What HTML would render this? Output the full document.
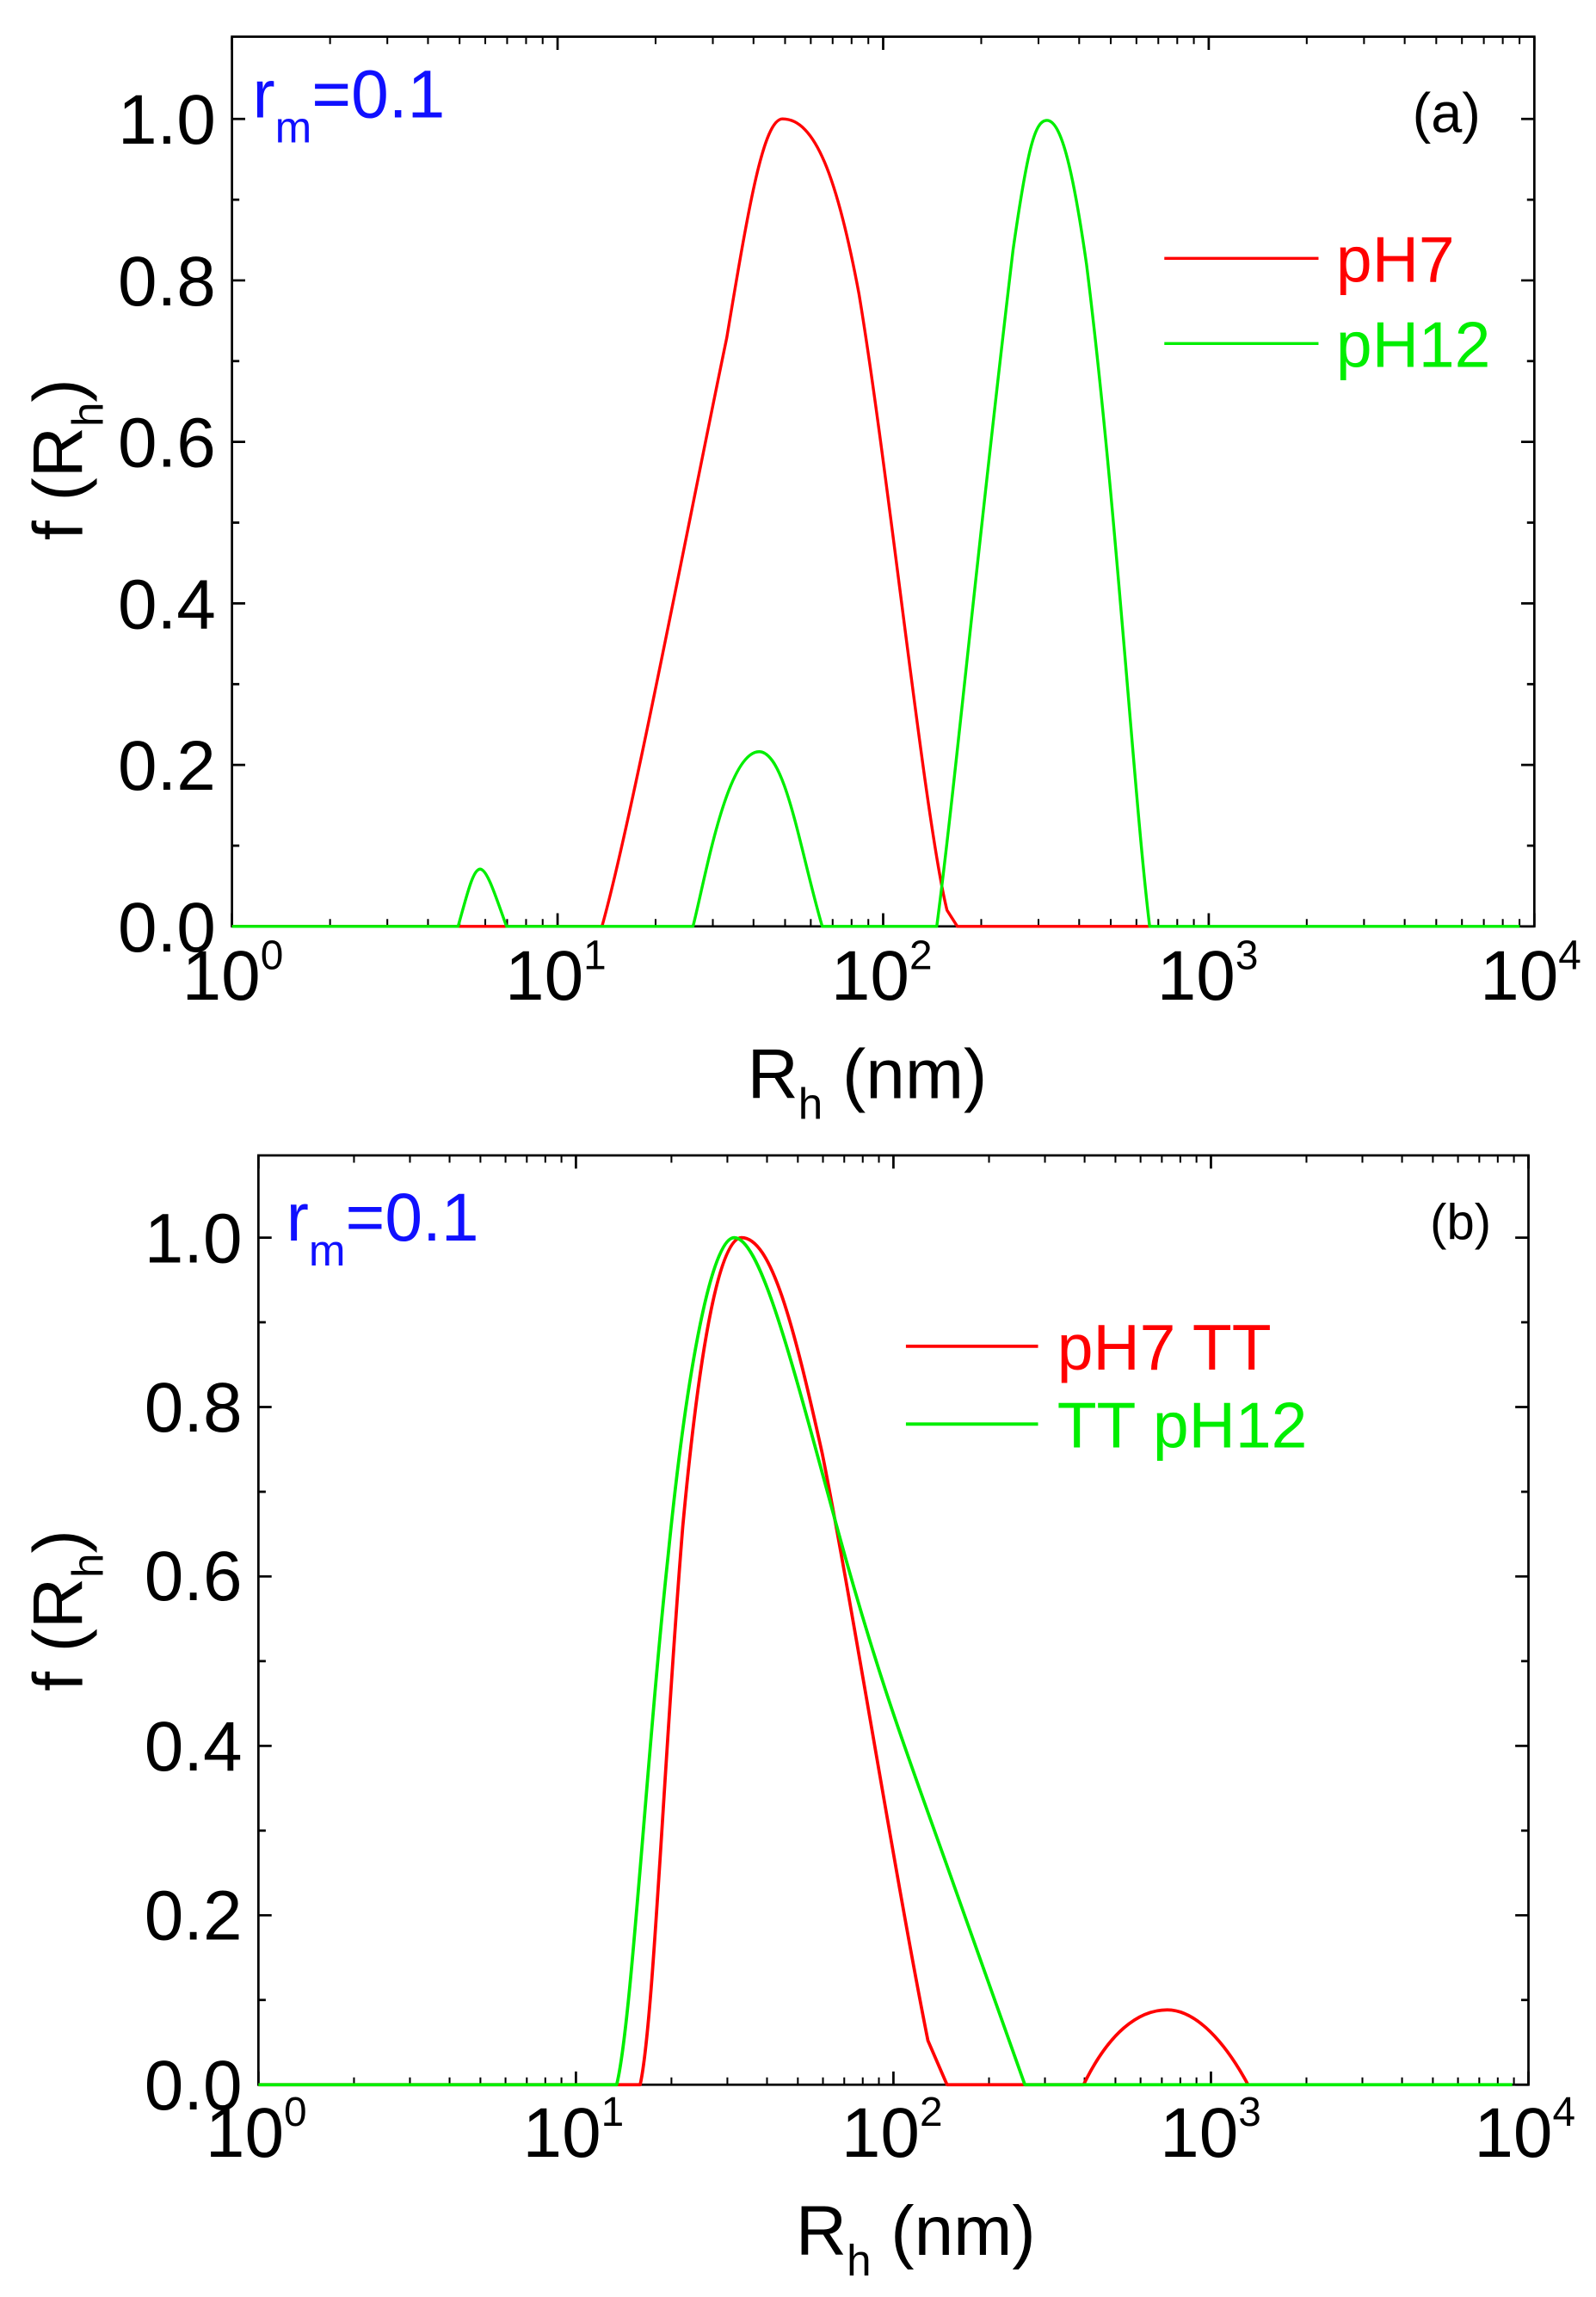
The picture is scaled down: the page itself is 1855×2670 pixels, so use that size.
<!DOCTYPE html>
<html><head><meta charset="utf-8"><style>
html,body{margin:0;padding:0;background:#fff}
svg{display:block}
text{font-family:"Liberation Sans",Arial,sans-serif}
</style></head><body>
<svg width="1855" height="2670" viewBox="0 0 1087 1564.6" preserveAspectRatio="none" xmlns="http://www.w3.org/2000/svg">
<!-- Panel A -->
<g stroke="#000" stroke-width="1.6" fill="none">
<rect x="158" y="25" width="887" height="606"/>
<path d="M158,631v-9M379.75,631v-9M601.5,631v-9M823.25,631v-9M1045,631v-9M158,25v9M379.75,25v9M601.5,25v9M823.25,25v9M1045,25v9"/>
<path d="M158,631h9M158,521h9M158,411h9M158,301h9M158,191h9M158,81h9M1045,631h-9M1045,521h-9M1045,411h-9M1045,301h-9M1045,191h-9M1045,81h-9"/>
<path d="M158,576h5M158,466h5M158,356h5M158,246h5M158,136h5M1045,576h-5M1045,466h-5M1045,356h-5M1045,246h-5M1045,136h-5"/>
<path stroke-width="1.2" d="M224.8,631v-5M263.8,631v-5M291.5,631v-5M313,631v-5M330.5,631v-5M345.4,631v-5M358.3,631v-5M369.6,631v-5M446.5,631v-5M485.5,631v-5M513.2,631v-5M534.7,631v-5M552.2,631v-5M567.1,631v-5M580,631v-5M591.4,631v-5M668.3,631v-5M707.3,631v-5M735,631v-5M756.5,631v-5M774,631v-5M788.9,631v-5M801.8,631v-5M813.1,631v-5M890,631v-5M929,631v-5M956.7,631v-5M978.2,631v-5M995.7,631v-5M1010.6,631v-5M1023.5,631v-5M1034.9,631v-5
M224.8,25v5M263.8,25v5M291.5,25v5M313,25v5M330.5,25v5M345.4,25v5M358.3,25v5M369.6,25v5M446.5,25v5M485.5,25v5M513.2,25v5M534.7,25v5M552.2,25v5M567.1,25v5M580,25v5M591.4,25v5M668.3,25v5M707.3,25v5M735,25v5M756.5,25v5M774,25v5M788.9,25v5M801.8,25v5M813.1,25v5M890,25v5M929,25v5M956.7,25v5M978.2,25v5M995.7,25v5M1010.6,25v5M1023.5,25v5M1034.9,25v5"/>
</g>
<g fill="none" stroke-width="2" stroke-linejoin="round">
<path stroke="#ff0000" d="M158,631 L410,631 C430,560 470,350 495,230 C510,140 520,81 533,81 C555,81 570,120 585,200 C605,320 630,560 645,620 L652,631 L785,631"/>
<path stroke="#00ee00" d="M158,631 L312,631 C318,610 322,592 327,592 C332,592 338,612 345,631 L472,631 C480,600 495,512 517,512 C535,512 545,580 560,631 L638,631 C650,540 665,380 690,170 C700,100 705,82 713,82 C722,82 730,110 740,180 C760,340 772,540 783,631 L1035,631"/>
<line x1="793" y1="176" x2="898" y2="176" stroke="#ff0000"/>
<line x1="793" y1="234" x2="898" y2="234" stroke="#00ee00"/>
</g>
<g font-size="48" text-anchor="end" fill="#000">
<text x="147" y="648">0.0</text><text x="147" y="538">0.2</text><text x="147" y="428">0.4</text><text x="147" y="318">0.6</text><text x="147" y="208">0.8</text><text x="147" y="98">1.0</text>
</g>
<g font-size="48" fill="#000">
<text x="124" y="681">10<tspan font-size="28" dy="-21">0</tspan></text>
<text x="344" y="681">10<tspan font-size="28" dy="-21">1</tspan></text>
<text x="566" y="681">10<tspan font-size="28" dy="-21">2</tspan></text>
<text x="788" y="681">10<tspan font-size="28" dy="-21">3</tspan></text>
<text x="1008" y="681">10<tspan font-size="28" dy="-21">4</tspan></text>
<text x="509" y="748">R<tspan font-size="30" dy="14">h</tspan><tspan dy="-14"> (nm)</tspan></text>
<text transform="translate(56,368) rotate(-90)">f (R<tspan font-size="30" dy="14">h</tspan><tspan dy="-14">)</tspan></text>
<text x="172" y="80" fill="#1010ff" font-size="46">r<tspan font-size="30" dy="17">m</tspan><tspan dy="-17">=0.1</tspan></text>
<text x="962" y="90" font-family="Liberation Serif,serif" font-size="38">(a)</text>
<text x="910" y="192" fill="#ff0000" font-size="44">pH7</text>
<text x="910" y="250" fill="#00ee00" font-size="44">pH12</text>
</g>

<!-- Panel B -->
<g stroke="#000" stroke-width="1.6" fill="none">
<rect x="176" y="787" width="865" height="633"/>
<path d="M176,1420v-9M392.25,1420v-9M608.5,1420v-9M824.75,1420v-9M1041,1420v-9M176,787v9M392.25,787v9M608.5,787v9M824.75,787v9M1041,787v9"/>
<path d="M176,1420h9M176,1304.6h9M176,1189.2h9M176,1073.8h9M176,958.4h9M176,843h9M1041,1420h-9M1041,1304.6h-9M1041,1189.2h-9M1041,1073.8h-9M1041,958.4h-9M1041,843h-9"/>
<path d="M176,1362.3h5M176,1246.9h5M176,1131.5h5M176,1016.1h5M176,900.7h5M1041,1362.3h-5M1041,1246.9h-5M1041,1131.5h-5M1041,1016.1h-5M1041,900.7h-5"/>
<path stroke-width="1.2" d="M241.1,1420v-5M279.2,1420v-5M306.2,1420v-5M327.2,1420v-5M344.3,1420v-5M358.8,1420v-5M371.4,1420v-5M382.4,1420v-5M457.3,1420v-5M495.4,1420v-5M522.4,1420v-5M543.4,1420v-5M560.5,1420v-5M575,1420v-5M587.6,1420v-5M598.6,1420v-5M673.6,1420v-5M711.7,1420v-5M738.7,1420v-5M759.7,1420v-5M776.8,1420v-5M791.3,1420v-5M803.9,1420v-5M814.9,1420v-5M889.8,1420v-5M927.9,1420v-5M954.9,1420v-5M975.9,1420v-5M993,1420v-5M1007.5,1420v-5M1020.1,1420v-5M1031.1,1420v-5
M241.1,787v5M279.2,787v5M306.2,787v5M327.2,787v5M344.3,787v5M358.8,787v5M371.4,787v5M382.4,787v5M457.3,787v5M495.4,787v5M522.4,787v5M543.4,787v5M560.5,787v5M575,787v5M587.6,787v5M598.6,787v5M673.6,787v5M711.7,787v5M738.7,787v5M759.7,787v5M776.8,787v5M791.3,787v5M803.9,787v5M814.9,787v5M889.8,787v5M927.9,787v5M954.9,787v5M975.9,787v5M993,787v5M1007.5,787v5M1020.1,787v5M1031.1,787v5"/>
</g>
<g fill="none" stroke-width="2.2" stroke-linejoin="round">
<path stroke="#ff0000" d="M176,1420 L436,1420 C445,1380 452,1200 465,1040 C478,900 492,843 505,843 C525,843 540,900 560,990 C580,1090 610,1280 632,1390 L645,1420 L738,1420 C755,1385 775,1369 795,1369 C815,1369 835,1392 850,1420"/>
<path stroke="#00ee00" d="M176,1420 L420,1420 C430,1380 440,1200 455,1060 C468,930 485,843 500,843 C518,843 540,930 570,1040 C600,1150 620,1200 650,1285 L698,1420 L1030,1420"/>
<line x1="617" y1="917" x2="707" y2="917" stroke="#ff0000"/>
<line x1="617" y1="970" x2="707" y2="970" stroke="#00ee00"/>
</g>
<g font-size="48" text-anchor="end" fill="#000">
<text x="165" y="1437">0.0</text><text x="165" y="1321">0.2</text><text x="165" y="1206">0.4</text><text x="165" y="1090">0.6</text><text x="165" y="975">0.8</text><text x="165" y="860">1.0</text>
</g>
<g font-size="48" fill="#000">
<text x="140" y="1469">10<tspan font-size="28" dy="-21">0</tspan></text>
<text x="356" y="1469">10<tspan font-size="28" dy="-21">1</tspan></text>
<text x="573" y="1469">10<tspan font-size="28" dy="-21">2</tspan></text>
<text x="790" y="1469">10<tspan font-size="28" dy="-21">3</tspan></text>
<text x="1004" y="1469">10<tspan font-size="28" dy="-21">4</tspan></text>
<text x="542" y="1536">R<tspan font-size="30" dy="14">h</tspan><tspan dy="-14"> (nm)</tspan></text>
<text transform="translate(56,1152) rotate(-90)">f (R<tspan font-size="30" dy="14">h</tspan><tspan dy="-14">)</tspan></text>
<text x="195" y="845" fill="#1010ff" font-size="46">r<tspan font-size="30" dy="17">m</tspan><tspan dy="-17">=0.1</tspan></text>
<text x="974" y="844" font-family="Liberation Serif,serif" font-size="34">(b)</text>
<text x="720" y="933" fill="#ff0000" font-size="44">pH7 TT</text>
<text x="720" y="986" fill="#00ee00" font-size="44">TT pH12</text>
</g>
</svg>
</body></html>
